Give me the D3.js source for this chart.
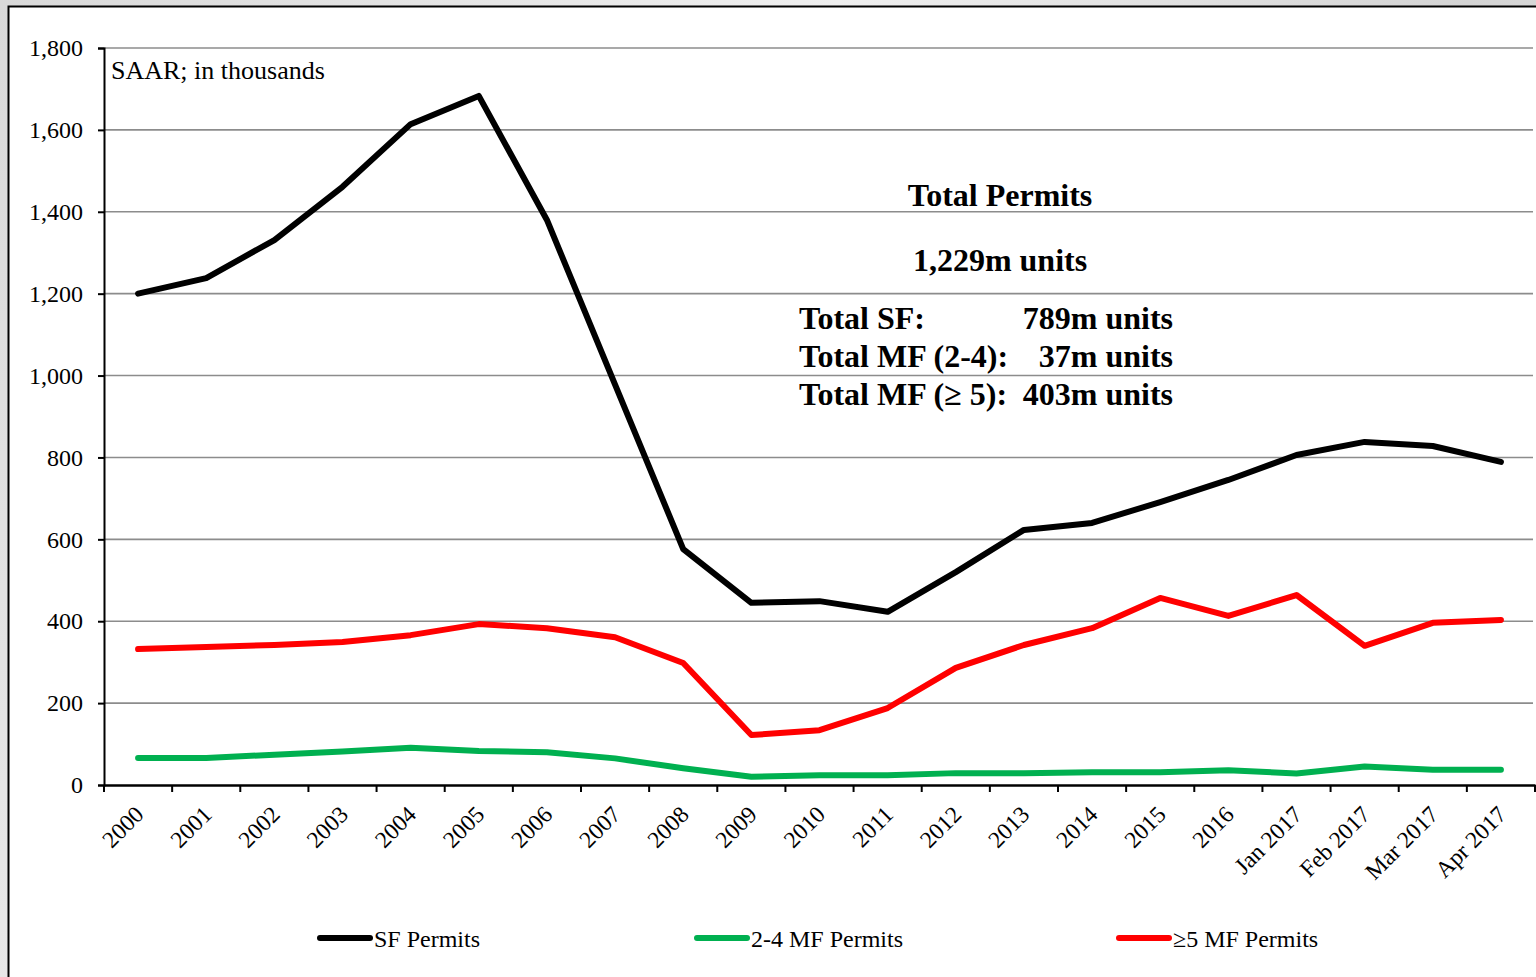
<!DOCTYPE html>
<html><head><meta charset="utf-8">
<script src="https://cdn.jsdelivr.net/npm/d3@7"></script>
<style>
html,body{margin:0;padding:0;}
body{width:1536px;height:977px;overflow:hidden;background:linear-gradient(120deg,#d9d9d9,#efefef 40%,#d4d4d4 70%,#ececec);}
svg{display:block;font-family:"Liberation Serif","Times New Roman",serif;}
</style></head>
<body>
<svg id="chart" width="1536" height="977"></svg>
<script>
const categories = ["2000","2001","2002","2003","2004","2005","2006","2007","2008","2009","2010","2011","2012","2013","2014","2015","2016","Jan 2017","Feb 2017","Mar 2017","Apr 2017"];
const sfPermits  = [1200,1238,1331,1461,1614,1683,1380,978,576,445,449,423,520,623,640,691,745,806,838,828,789];
const mf24Permits = [66,66,74,82,91,83,80,65,41,20,24,24,29,29,31,31,36,28,45,37,37];
const mf5Permits = [332,337,342,349,366,393,383,361,298,122,134,188,286,342,383,457,413,464,340,396,403];
const yTicks = [0,200,400,600,800,1000,1200,1400,1600,1800];
const seriesNames = ["SF Permits","2-4 MF Permits","\u22655 MF Permits"];
const seriesColors = ["#000000","#00b050","#ff0000"];
const annotationLines = [["Total SF:","789m units"],["Total MF (2-4):","37m units"],["Total MF (\u2265 5):","403m units"]];

const svg = d3.select("#chart");
// white frame
svg.append("rect").attr("x",8.5).attr("y",6.5).attr("width",1540).attr("height",990)
  .attr("fill","#fff").attr("stroke","#000").attr("stroke-width",2);

const x = d3.scaleBand().domain(categories).range([104,1535]).paddingInner(0).paddingOuter(0);
const y = d3.scaleLinear().domain([0,1800]).range([785,48]);
const cx = d => x(d) + x.bandwidth()/2;

// gridlines
svg.append("g").selectAll("line").data(yTicks.filter(d=>d>0)).join("line")
  .attr("x1",104).attr("x2",1533).attr("y1",d=>y(d)).attr("y2",d=>y(d))
  .attr("stroke","#8c8c8c").attr("stroke-width",1.6);

// y axis
const yAxis = svg.append("g").attr("transform","translate(104,0)")
  .call(d3.axisLeft(y).tickValues(yTicks).tickFormat(d3.format(",")).tickSize(6).tickPadding(15));
yAxis.select(".domain").attr("stroke","#000").attr("stroke-width",2);
yAxis.selectAll(".tick line").attr("stroke","#000").attr("stroke-width",2);
yAxis.selectAll("text").attr("font-size",24).attr("font-family","Liberation Serif").attr("fill","#000");

// x axis
const xAxis = svg.append("g").attr("transform","translate(0,785)")
  .call(d3.axisBottom(x).tickSize(0).tickPadding(0));
xAxis.select(".domain").attr("stroke","#000").attr("stroke-width",2.5);
xAxis.selectAll("text").attr("font-size",23.5).attr("font-family","Liberation Serif").attr("fill","#000")
  .attr("text-anchor","end").attr("dy",0).attr("y",0)
  .attr("transform","translate(7,31) rotate(-45)");
// boundary ticks
const bounds = categories.map(c=>x(c)).concat([x(categories[categories.length-1])+x.bandwidth()]);
svg.append("g").selectAll("line").data(bounds).join("line")
  .attr("x1",d=>d).attr("x2",d=>d).attr("y1",785).attr("y2",792)
  .attr("stroke","#000").attr("stroke-width",2);

// lines
const allSeries = [sfPermits, mf24Permits, mf5Permits];
const lineGen = d3.line().x((d,i)=>cx(categories[i])).y(d=>y(d));
[1,2,0].forEach(k=>{
  svg.append("path").datum(allSeries[k]).attr("d",lineGen)
    .attr("fill","none").attr("stroke",seriesColors[k]).attr("stroke-width",6)
    .attr("stroke-linejoin","round").attr("stroke-linecap","round");
});

// unit text
svg.append("text").attr("x",111).attr("y",79).attr("font-size",26).text("SAAR; in thousands");

// annotation
svg.append("text").attr("x",1000).attr("y",206).attr("text-anchor","middle").attr("font-size",32).attr("font-weight","bold").text("Total Permits");
svg.append("text").attr("x",1000).attr("y",271).attr("text-anchor","middle").attr("font-size",32).attr("font-weight","bold").text("1,229m units");
annotationLines.forEach((r,i)=>{
  svg.append("text").attr("x",799).attr("y",329+i*38).attr("font-size",32).attr("font-weight","bold").text(r[0]);
  svg.append("text").attr("x",1173).attr("y",329+i*38).attr("text-anchor","end").attr("font-size",32).attr("font-weight","bold").text(r[1]);
});

// legend
const legendX = [318,695,1117];
seriesNames.forEach((n,i)=>{
  const g = svg.append("g").attr("transform",`translate(${legendX[i]},938)`);
  g.append("line").attr("x1",2).attr("x2",52).attr("y1",0).attr("y2",0)
    .attr("stroke",seriesColors[i]).attr("stroke-width",6).attr("stroke-linecap","round");
  g.append("text").attr("x",56).attr("y",9).attr("font-size",24).text(n);
});
</script>
</body></html>
